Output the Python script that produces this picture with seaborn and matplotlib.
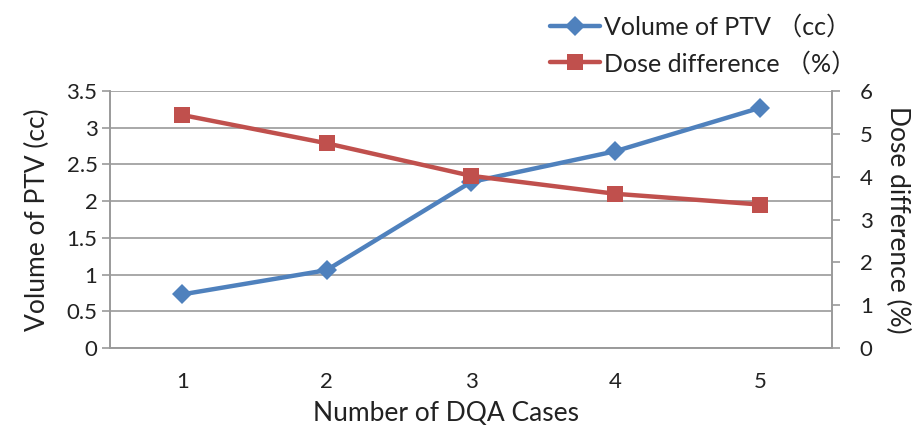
import matplotlib
matplotlib.use("Agg")
import matplotlib.pyplot as plt
import seaborn as sns
import pandas as pd
from matplotlib.lines import Line2D
from matplotlib.ticker import FixedLocator

# Data
cases = [1, 2, 3, 4, 5]
ptv_volume = [0.73, 1.06, 2.26, 2.68, 3.27]
dose_diff = [5.44, 4.78, 4.02, 3.60, 3.35]

left_ticks = [0, 0.5, 1, 1.5, 2, 2.5, 3, 3.5]
right_ticks = [0, 1, 2, 3, 4, 5, 6]

sns.set_theme(style="white")
plt.rcParams["font.family"] = ["Lato", "Noto Sans CJK SC", "DejaVu Sans"]

blue = "#4F81BD"
red = "#C0504D"
grid_c = "#9a9a9a"
txt_c = "#222222"

df = pd.DataFrame({"case": cases, "ptv": ptv_volume, "dose": dose_diff})

fig = plt.figure(figsize=(9.15, 4.28), dpi=100)
ax = fig.add_axes([110 / 915, 1 - 348 / 428, (832 - 110) / 915, (348 - 91) / 428])
ax2 = ax.twinx()

sns.lineplot(data=df, x="case", y="ptv", ax=ax, color=blue, lw=3.2,
             marker="D", markersize=10, markeredgewidth=0, zorder=3)
sns.lineplot(data=df, x="case", y="dose", ax=ax2, color=red, lw=3.2,
             marker="s", markersize=11, markeredgewidth=0, zorder=3)

ax.set_xlim(0.5, 5.5)
ax.set_ylim(0, 3.5)
ax2.set_ylim(0, 6)
ax.set_yticks(left_ticks)
ax.set_yticklabels(["0", "0.5", "1", "1.5", "2", "2.5", "3", "3.5"])
ax2.set_yticks(right_ticks)
ax2.set_yticklabels([str(t) for t in right_ticks])

# Category axis: labels at centres, tick marks on boundaries
ax.set_xticks(cases)
ax.set_xticklabels([str(c) for c in cases])
ax.xaxis.set_minor_locator(FixedLocator([0.5, 1.5, 2.5, 3.5, 4.5, 5.5]))
ax.tick_params(axis="x", which="major", length=0, pad=17, labelsize=16, colors=txt_c)
ax.tick_params(axis="x", which="minor", length=6, width=1.2, color=grid_c, direction="out")
ax.tick_params(axis="y", length=6, width=1.2, color=grid_c, labelsize=16, labelcolor=txt_c, pad=3)
ax2.tick_params(axis="y", length=6, width=1.2, color=grid_c, labelsize=16, labelcolor=txt_c, pad=14)

ax.yaxis.grid(True, color=grid_c, lw=1.2)
ax.set_axisbelow(True)
for a in (ax, ax2):
    for s in a.spines.values():
        s.set_color(grid_c)
        s.set_linewidth(1.2)
    a.spines["top"].set_visible(False)

ax.set_xlabel("Number of DQA Cases", fontsize=19, color=txt_c)
ax.xaxis.set_label_coords((446 - 110) / (832 - 110), -0.205)
ax.set_ylabel("Volume of PTV (cc)", fontsize=19, color=txt_c, labelpad=12)
ax2.set_ylabel("Dose difference (%)", fontsize=19, color=txt_c, rotation=270, labelpad=27)

handles = [
    Line2D([], [], color=blue, lw=3.2, marker="D", markersize=10, markeredgewidth=0),
    Line2D([], [], color=red, lw=3.2, marker="s", markersize=11, markeredgewidth=0),
]
labels = ["Volume of PTV （cc）", "Dose difference （%）"]
fig.legend(handles, labels, loc="upper left", bbox_to_anchor=(540 / 915, 1 - 5 / 428),
           frameon=False, fontsize=18, handlelength=2.0, handletextpad=0.15,
           labelspacing=0.5, borderaxespad=0, labelcolor=txt_c)

fig.savefig("out.png", dpi=100, facecolor="white")
